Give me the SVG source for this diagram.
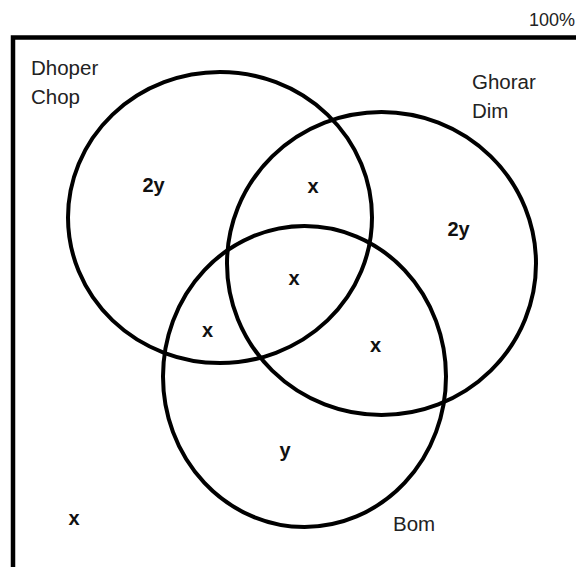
<svg xmlns="http://www.w3.org/2000/svg" width="576" height="567" viewBox="0 0 576 567">
<style>
.set{fill:none;stroke:#000;stroke-width:4}
.name{font-family:"Liberation Sans",Arial,sans-serif;font-size:20.5px;fill:#222}
.val{font-family:"Liberation Sans",Arial,sans-serif;font-size:20px;font-weight:bold;fill:#111;text-anchor:middle}
</style>
<rect width="576" height="567" fill="#fff"/>
<text x="575" y="26" class="name" style="text-anchor:end;font-size:18px">100%</text>
<rect id="frame" x="13" y="37.5" width="620" height="600" fill="none" stroke="#000" stroke-width="4.5"/>
<g id="connectors"></g>
<g id="dhoper-chop">
<ellipse class="set" cx="220" cy="217.5" rx="152" ry="145.5"/>
<text class="name" x="31" y="75">Dhoper</text>
<text class="name" x="31" y="104">Chop</text>
<text class="val" x="153.5" y="192">2y</text>
</g>
<g id="ghorar-dim">
<ellipse class="set" cx="381.5" cy="263.5" rx="154.5" ry="151.5"/>
<text class="name" x="472" y="89">Ghorar</text>
<text class="name" x="472" y="118">Dim</text>
<text class="val" x="458.5" y="236">2y</text>
</g>
<g id="bom">
<ellipse class="set" cx="304.5" cy="376.5" rx="141.5" ry="150.5"/>
<text class="name" x="393" y="531">Bom</text>
<text class="val" x="285" y="457">y</text>
</g>
<g id="regions">
<text class="val" x="313" y="193">x</text>
<text class="val" x="294" y="285">x</text>
<text class="val" x="207.5" y="337">x</text>
<text class="val" x="375.5" y="352">x</text>
<text class="val" x="74" y="525">x</text>
</g>
</svg>
